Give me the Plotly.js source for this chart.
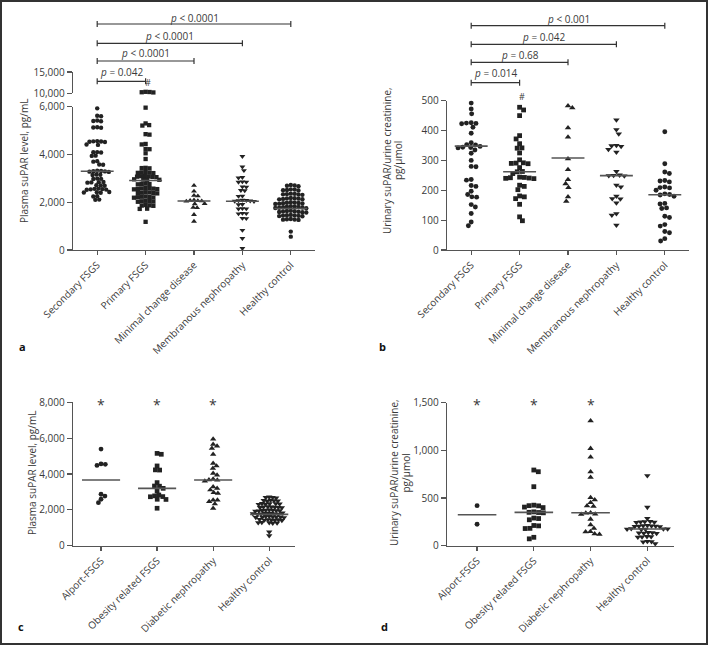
<!DOCTYPE html>
<html>
<head>
<meta charset="utf-8">
<script src="https://cdn.plot.ly/plotly-3.0.1.min.js"></script>
<style>
  html, body { margin: 0; padding: 0; background: #fff; }
  #chart { width: 708px; height: 645px; }
</style>
</head>
<body>
<div id="chart"></div>
<script>
// ---------------- DATA ----------------
const catsTop = ["Secondary FSGS", "Primary FSGS", "Minimal change disease", "Membranous nephropathy", "Healthy control"];
const catsBottom = ["Alport-FSGS", "Obesity related FSGS", "Diabetic nephropathy", "Healthy control"];

// Panel a: plasma suPAR, pg/mL
const plasmaSecondary = [5930, 5620, 5600, 5420, 5400, 5390, 5140, 5130, 5120, 4560, 4550, 4540, 4530, 4520, 4420, 4400, 4100, 4090, 4080, 3950, 3940, 3720, 3700, 3580, 3570, 3320, 3310, 3300, 3290, 3280, 3270, 3160, 3150, 3140, 2990, 2980, 2970, 2850, 2840, 2830, 2820, 2710, 2700, 2690, 2570, 2560, 2550, 2540, 2530, 2520, 2430, 2420, 2410, 2400, 2250, 2240, 2110, 2100];
const plasmaPrimary = [10350, 10300, 10250, 10200, 5960, 5300, 5230, 5210, 4850, 4830, 4440, 4420, 4230, 4220, 4050, 3810, 3440, 3430, 3420, 3260, 3250, 3240, 3230, 3220, 3100, 3090, 3080, 3070, 3060, 3050, 2960, 2950, 2940, 2930, 2780, 2770, 2760, 2750, 2600, 2590, 2580, 2570, 2560, 2550, 2540, 2420, 2410, 2400, 2390, 2380, 2370, 2240, 2230, 2220, 2210, 2200, 2190, 2060, 2050, 2040, 2030, 2020, 1880, 1870, 1860, 1850, 1730, 1720, 1180];
const plasmaMCD = [2700, 2460, 2280, 2260, 2090, 2070, 2060, 2050, 2040, 1940, 1930, 1780, 1770, 1480, 1200];
const plasmaMN = [3920, 3480, 3330, 3040, 3020, 2860, 2850, 2840, 2650, 2640, 2500, 2490, 2260, 2250, 2090, 2080, 2070, 2060, 2050, 2040, 1910, 1900, 1740, 1730, 1720, 1540, 1530, 1520, 1330, 1320, 830, 490, 70];
const plasmaHC = [2720, 2700, 2690, 2670, 2540, 2530, 2510, 2500, 2490, 2360, 2350, 2340, 2330, 2320, 2310, 2180, 2170, 2160, 2150, 2140, 2130, 2120, 2000, 1990, 1980, 1970, 1960, 1950, 1940, 1930, 1830, 1820, 1810, 1800, 1790, 1780, 1770, 1760, 1750, 1640, 1630, 1620, 1610, 1600, 1590, 1580, 1570, 1470, 1460, 1450, 1440, 1430, 1420, 1410, 1300, 1290, 1280, 1270, 1260, 770, 560];
const mediansA = [3300, 2910, 2050, 2040, 1740];
const pLabelsA = ["p = 0.042", "p < 0.0001", "p < 0.0001", "p < 0.0001"];

// Panel b: urinary suPAR / urine creatinine, pg/µmol
const urineSecondary = [492, 472, 456, 426, 425, 424, 423, 411, 391, 359, 353, 352, 347, 344, 343, 342, 335, 324, 300, 280, 279, 236, 234, 216, 213, 197, 186, 178, 177, 152, 144, 122, 94, 81];
const urinePrimary = [478, 469, 450, 383, 372, 356, 342, 341, 325, 302, 292, 291, 290, 289, 276, 263, 262, 256, 244, 243, 242, 241, 240, 239, 217, 213, 202, 181, 178, 172, 153, 111, 98];
const urineMCD = [483, 476, 409, 378, 305, 269, 236, 222, 209, 178, 163];
const urineMN = [436, 403, 389, 350, 349, 347, 337, 328, 263, 251, 250, 249, 248, 217, 211, 180, 172, 171, 158, 122, 117, 83];
const urineHC = [396, 289, 261, 256, 233, 231, 228, 211, 209, 208, 200, 188, 186, 184, 180, 156, 154, 141, 139, 113, 109, 85, 80, 62, 58, 38, 30];
const mediansB = [348, 262, 308, 249, 185];
const pLabelsB = ["p = 0.014", "p = 0.68", "p = 0.042", "p < 0.001"];

// Panel c: plasma suPAR, pg/mL
const plasmaAlport = [5390, 4560, 4540, 4480, 2870, 2770, 2590, 2400];
const plasmaObesity = [5150, 5100, 4450, 4230, 4220, 3520, 3330, 3320, 3200, 3050, 2830, 2780, 2740, 2730, 2590, 2580, 2090];
const plasmaDiabetic = [5950, 5660, 5560, 5430, 5100, 4600, 4450, 4320, 4040, 3940, 3720, 3670, 3660, 3600, 3290, 3200, 3110, 2960, 2920, 2550, 2540, 2460, 2330, 2090];
const mediansC = [3665, 3200, 3665, 1750];

// Panel d: urinary suPAR / urine creatinine, pg/µmol
const urineAlport = [420, 225];
const urineObesity = [794, 776, 619, 425, 420, 418, 405, 400, 355, 350, 348, 345, 290, 285, 272, 212, 208, 182, 180, 88, 72];
const urineDiabetic = [1310, 1020, 930, 775, 718, 505, 480, 452, 418, 412, 345, 342, 332, 328, 278, 218, 182, 148, 145, 125, 120];
const urineHC2 = [734, 403, 287, 255, 252, 250, 248, 245, 212, 210, 208, 206, 204, 202, 200, 178, 176, 175, 173, 172, 170, 138, 136, 134, 132, 130, 96, 94, 92, 90, 45, 42, 40, 22];
const mediansD = [325, 350, 345, 175];

// ---------------- LAYOUT GEOMETRY ----------------
const W = 708, H = 645;
const FONT = "Open Sans, Liberation Sans, sans-serif";
const INK = "#222", AX = "#555", TXT = "#3a3a3a";

function xdom(a, b) { return [a / W, b / W]; }
function ydom(top, bot) { return [1 - bot / H, 1 - top / H]; }
function py(p) { return 1 - p / H; }

const geo = {
  a: { x: [73, 315], xr: [-0.5, 4.5], yLo: [106.7, 250], yLoR: [0, 6000], yUp: [72, 93.3], yUpR: [10000, 15000] },
  b: { x: [447, 689], xr: [-0.5, 4.5], yLo: [100.7, 250], yLoR: [0, 500], yUp: [71, 90.7], yUpR: [60000, 80000] },
  c: { x: [73, 295], xr: [-0.5, 3.46], yLo: [402.3, 545.7], yLoR: [0, 8000] },
  d: { x: [447, 674], xr: [-0.53, 3.47], yLo: [402.7, 545.7], yLoR: [0, 1500] }
};
function pxPer(pxRange, r) { return Math.abs(pxRange[1] - pxRange[0]) / (r[1] - r[0]); }

// beeswarm: x offsets (in data units) so that markers do not overlap
function swarm(vals, pxX, pxY, d) {
  const idx = vals.map((v, i) => i).sort((a, b) => vals[b] - vals[a]);
  const placed = [];
  const off = new Array(vals.length).fill(0);
  let sgn = 1;
  idx.forEach(i => {
    const y = vals[i] * pxY;
    const forb = [];
    placed.forEach(p => {
      const dy = Math.abs(p.y - y);
      if (dy < d) { const w = Math.sqrt(d * d - dy * dy); forb.push([p.x - w, p.x + w]); }
    });
    const cands = [0];
    forb.forEach(f => cands.push(f[0], f[1]));
    cands.sort((a, b) => (Math.abs(a) - Math.abs(b)) || (sgn * (b - a)));
    let best = 0;
    for (const c of cands) {
      if (forb.every(f => c <= f[0] + 1e-6 || c >= f[1] - 1e-6)) { best = c; break; }
    }
    if (best !== 0) sgn = -sgn;
    placed.push({ x: best, y: y });
    off[i] = best / pxX;
  });
  return off;
}

const traces = [];
function addGroup(g, xa, ya, yaUp, i, vals, symbol, size, d, median, halfW) {
  const pxX = pxPer(g.x, g.xr);
  const lo = vals.filter(v => v <= g.yLoR[1]);
  const up = g.yUpR ? vals.filter(v => v >= g.yUpR[0]) : [];
  const offLo = swarm(lo, pxX, pxPer(g.yLo, g.yLoR), d);
  traces.push({
    type: "scatter", mode: "markers", xaxis: xa, yaxis: ya,
    x: lo.map((v, k) => i + offLo[k]), y: lo,
    marker: { symbol: symbol, size: size, color: INK, line: { width: 0 } },
    hoverinfo: "skip", cliponaxis: false
  });
  if (up.length) {
    const offUp = swarm(up, pxX, pxPer(g.yUp, g.yUpR), d);
    traces.push({
      type: "scatter", mode: "markers", xaxis: xa, yaxis: yaUp,
      x: up.map((v, k) => i + offUp[k]), y: up,
      marker: { symbol: symbol, size: size, color: INK, line: { width: 0 } },
      hoverinfo: "skip", cliponaxis: false
    });
  }
  traces.push({
    type: "scatter", mode: "lines", xaxis: xa, yaxis: ya,
    x: [i - halfW, i + halfW], y: [median, median],
    line: { color: "#555", width: 1.6 }, hoverinfo: "skip"
  });
}

const symTop = ["circle", "square", "triangle-up", "triangle-down", "circle"];
const symBot = ["circle", "square", "triangle-up", "triangle-down"];
const sizeOf = s => s.indexOf("triangle") === 0 ? 5.2 : (s === "square" ? 4.3 : 4.4);

[plasmaSecondary, plasmaPrimary, plasmaMCD, plasmaMN, plasmaHC].forEach((v, i) =>
  addGroup(geo.a, "x", "y", "y2", i, v, symTop[i], sizeOf(symTop[i]), 3.9, mediansA[i], 0.34));
[urineSecondary, urinePrimary, urineMCD, urineMN, urineHC].forEach((v, i) =>
  addGroup(geo.b, "x2", "y3", "y4", i, v, symTop[i], sizeOf(symTop[i]) + 0.5, 4.8, mediansB[i], 0.34));
[plasmaAlport, plasmaObesity, plasmaDiabetic, plasmaHC].forEach((v, i) =>
  addGroup(geo.c, "x3", "y5", null, i, v, symBot[i], sizeOf(symBot[i]) + 0.4, i === 3 ? 3.5 : 4.3, mediansC[i], 0.34));
[urineAlport, urineObesity, urineDiabetic, urineHC2].forEach((v, i) =>
  addGroup(geo.d, "x4", "y6", null, i, v, symBot[i], sizeOf(symBot[i]) + 0.5, i === 3 ? 4.2 : 4.8, mediansD[i], 0.34));

// ---------------- AXES ----------------
const tickFont = { family: FONT, size: 10, color: TXT };
function xAxis(g, anchor, cats) {
  return {
    domain: xdom(g.x[0], g.x[1]), range: g.xr, anchor: anchor,
    tickmode: "array", tickvals: cats.map((c, i) => i), ticktext: cats,
    tickangle: -45, ticks: "outside", ticklen: 4, tickwidth: 1.2, tickcolor: AX,
    showline: true, linecolor: AX, linewidth: 1.3, showgrid: false, zeroline: false,
    tickfont: tickFont, fixedrange: true
  };
}
function yAxis(dom, r, anchor, tickvals) {
  return {
    domain: ydom(dom[0], dom[1]), range: r, anchor: anchor,
    tickmode: "array", tickvals: tickvals, tickformat: ",",
    ticks: "outside", ticklen: 5, tickwidth: 1.2, tickcolor: AX,
    showline: true, linecolor: AX, linewidth: 1.3, showgrid: false, zeroline: false,
    tickfont: tickFont, fixedrange: true
  };
}

// ---------------- ANNOTATIONS & SHAPES ----------------
const annotations = [];
const shapes = [];
function txt(text, x, y, opts) {
  annotations.push(Object.assign({
    text: text, x: x, y: y, xref: "paper", yref: "paper", showarrow: false,
    xanchor: "center", yanchor: "middle", font: { family: FONT, size: 10, color: TXT }
  }, opts || {}));
}
// y-axis titles
txt("Plasma suPAR level, pg/mL", 24 / W, py(161), { textangle: -90 });
txt("Urinary suPAR/urine creatinine,", 387 / W, py(161), { textangle: -90 });
txt("pg/µmol", 398 / W, py(161), { textangle: -90 });
txt("Plasma suPAR level, pg/mL", 32 / W, py(473), { textangle: -90 });
txt("Urinary suPAR/urine creatinine,", 394 / W, py(473), { textangle: -90 });
txt("pg/µmol", 405.5 / W, py(473), { textangle: -90 });
// panel letters
const letterFont = { family: FONT, size: 11, color: "#111" };
txt("<b>a</b>", 22 / W, py(346), { font: letterFont });
txt("<b>b</b>", 382 / W, py(346), { font: letterFont });
txt("<b>c</b>", 21 / W, py(626), { font: letterFont });
txt("<b>d</b>", 384 / W, py(626), { font: letterFont });

// significance brackets
function brackets(xa, labels, barY, textY) {
  labels.forEach((lab, k) => {
    const x1 = k + 1, yb = py(barY[k]), cap = 3 / H;
    const ln = { color: "#333", width: 1.2 };
    shapes.push({ type: "line", xref: xa, yref: "paper", x0: 0, x1: x1, y0: yb, y1: yb, line: ln });
    shapes.push({ type: "line", xref: xa, yref: "paper", x0: 0, x1: 0, y0: yb - cap, y1: yb + cap, line: ln });
    shapes.push({ type: "line", xref: xa, yref: "paper", x0: x1, x1: x1, y0: yb - cap, y1: yb + cap, line: ln });
    const html = lab.replace("p", "<i>p</i>").replace("<", "&lt;").replace("&lt;i>", "<i>");
    annotations.push({
      text: html, xref: xa, yref: "paper", x: x1 / 2, y: py(textY[k]), showarrow: false,
      xanchor: "center", yanchor: "middle", font: { family: FONT, size: 10, color: TXT }
    });
  });
}
brackets("x", pLabelsA, [81.3, 61, 43.3, 24], [71.5, 53.5, 36, 17.5]);
brackets("x2", pLabelsB, [82.7, 62.3, 44.3, 25.7], [73, 55, 37.3, 19]);

// outlier marks
annotations.push({ text: "#", xref: "x", yref: "paper", x: 1.05, y: py(82), showarrow: false,
  xanchor: "center", yanchor: "middle", font: { family: FONT, size: 9, color: TXT } });
annotations.push({ text: "#", xref: "x2", yref: "paper", x: 1.05, y: py(96.7), showarrow: false,
  xanchor: "center", yanchor: "middle", font: { family: FONT, size: 9, color: TXT } });
// asterisks
[0, 1, 2].forEach(i => {
  annotations.push({ text: "*", xref: "x3", yref: "y5", x: i, y: 8000, yshift: -2, showarrow: false,
    xanchor: "center", yanchor: "middle", font: { family: FONT, size: 14, color: TXT } });
  annotations.push({ text: "*", xref: "x4", yref: "y6", x: i, y: 1500, yshift: -2, showarrow: false,
    xanchor: "center", yanchor: "middle", font: { family: FONT, size: 14, color: TXT } });
});

// outer frame
shapes.push({ type: "rect", xref: "paper", yref: "paper", x0: 1 / W, x1: 1 - 1 / W, y0: 1 / H, y1: 1 - 1 / H,
  line: { color: "#333", width: 2 }, fillcolor: "rgba(0,0,0,0)" });

const layout = {
  width: W, height: H, margin: { l: 0, r: 0, t: 0, b: 0, pad: 0 },
  paper_bgcolor: "#fff", plot_bgcolor: "rgba(0,0,0,0)", showlegend: false,
  font: { family: FONT, size: 10, color: TXT },
  xaxis: xAxis(geo.a, "y", catsTop),
  yaxis: yAxis(geo.a.yLo, geo.a.yLoR, "x", [0, 2000, 4000, 6000]),
  yaxis2: yAxis(geo.a.yUp, geo.a.yUpR, "x", [10000, 15000]),
  xaxis2: xAxis(geo.b, "y3", catsTop),
  yaxis3: yAxis(geo.b.yLo, geo.b.yLoR, "x2", [0, 100, 200, 300, 400, 500]),
  yaxis4: yAxis(geo.b.yUp, geo.b.yUpR, "x2", [60000, 80000]),
  xaxis3: xAxis(geo.c, "y5", catsBottom),
  yaxis5: yAxis(geo.c.yLo, geo.c.yLoR, "x3", [0, 2000, 4000, 6000, 8000]),
  xaxis4: xAxis(geo.d, "y6", catsBottom),
  yaxis6: yAxis(geo.d.yLo, geo.d.yLoR, "x4", [0, 500, 1000, 1500]),
  annotations: annotations,
  shapes: shapes
};

Plotly.newPlot("chart", traces, layout, { displayModeBar: false, staticPlot: true });
</script>
</body>
</html>
